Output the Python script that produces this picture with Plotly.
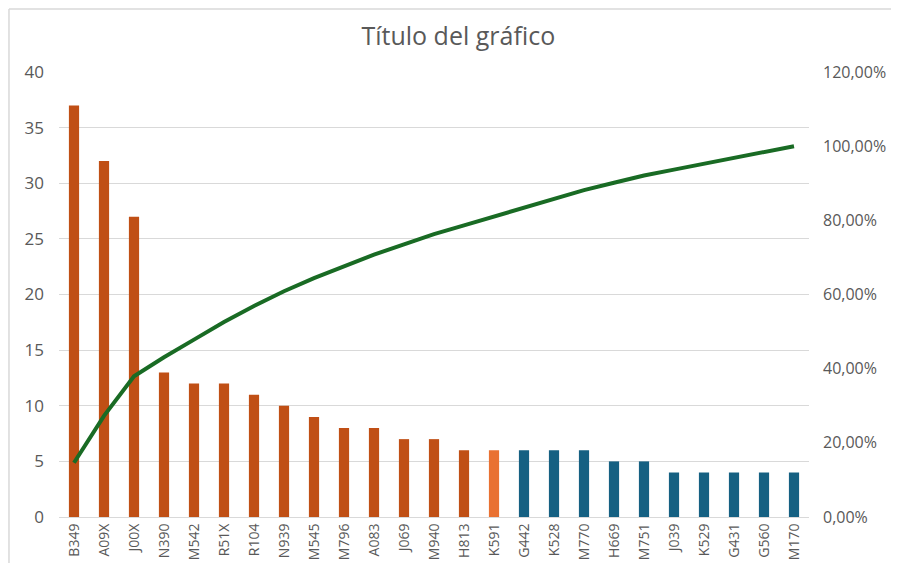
import plotly.graph_objects as go

categories = ["B349", "A09X", "J00X", "N390", "M542", "R51X", "R104", "N939", "M545",
              "M796", "A083", "J069", "M940", "H813", "K591", "G442", "K528", "M770",
              "H669", "M751", "J039", "K529", "G431", "G560", "M170"]
counts = [37, 32, 27, 13, 12, 12, 11, 10, 9, 8, 8, 7, 7, 6, 6, 6, 6, 6, 5, 5, 4, 4, 4, 4, 4]
groups = ["A"] * 14 + ["B"] + ["C"] * 10

group_colors = {"A": "#C04F15", "B": "#E97132", "C": "#156082"}

total = sum(counts)
cum = []
running = 0
for c in counts:
    running += c
    cum.append(running / total)

font_family = "Open Sans, Lato, sans-serif"
tick_color = "#595959"
frame_color = "#D9D9D9"

fig = go.Figure()
fig.add_trace(go.Bar(
    x=categories, y=counts,
    marker=dict(color=[group_colors[g] for g in groups], line=dict(width=0)),
    yaxis="y", showlegend=False,
))
fig.add_trace(go.Scatter(
    x=categories, y=cum, mode="lines",
    line=dict(color="#196B24", width=4),
    yaxis="y2", showlegend=False,
))

fig.update_layout(
    width=883, height=555,
    margin=dict(l=51, r=82, t=64, b=46, autoexpand=False),
    paper_bgcolor="white", plot_bgcolor="white",
    separators=",.",
    bargap=0.66,
    title=dict(text="Título del gráfico", x=0.51, xanchor="center", y=0.95, yanchor="middle",
               font=dict(family=font_family, size=25, color="#595959")),
    font=dict(family=font_family, color=tick_color),
    xaxis=dict(tickangle=-90, tickfont=dict(size=14, color=tick_color), showgrid=False,
               showline=True, linecolor="#D9D9D9", linewidth=1, ticks="", ticklen=0,
               automargin=False),
    yaxis=dict(range=[0, 40], dtick=5, showgrid=True, gridcolor="#D9D9D9", gridwidth=1,
               zeroline=False, tickfont=dict(size=17, color=tick_color), ticklabelstandoff=14,
               showline=False, automargin=False),
    yaxis2=dict(range=[0, 1.2], dtick=0.2, tickformat=".2%", overlaying="y", side="right",
                showgrid=False, zeroline=False, tickfont=dict(size=16, color=tick_color),
                ticklabelstandoff=13, automargin=False),
    shapes=[
        dict(type="line", xref="paper", yref="paper", x0=-0.0667, x1=-0.0667, y0=-0.5, y1=1.1416,
             line=dict(color=frame_color, width=1.5), layer="below"),
        dict(type="line", xref="paper", yref="paper", x0=-0.0667, x1=1.3, y0=1.1416, y1=1.1416,
             line=dict(color=frame_color, width=1.5), layer="below"),
    ],
)

fig.write_html("out.html")
